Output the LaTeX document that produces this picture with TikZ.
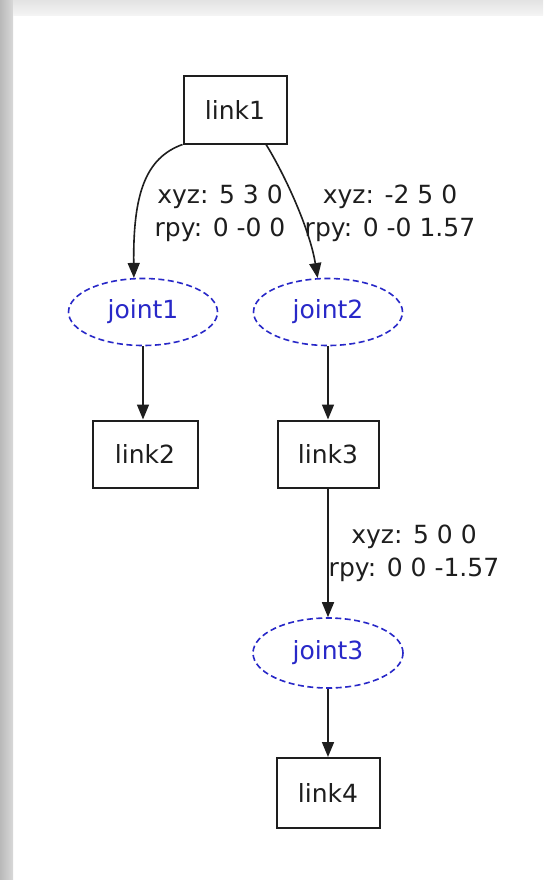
\documentclass[tikz,border=0pt]{standalone}
\usepackage{fontspec}
\setmainfont{DejaVu Sans}
\usetikzlibrary{shapes.geometric,arrows.meta}
\definecolor{jblue}{RGB}{40,40,200}
\definecolor{ink}{RGB}{30,30,30}
\tikzset{
  linkbox/.style={draw=ink, line width=2pt, rectangle, minimum width=103pt, minimum height=67pt, inner sep=0pt, text=ink, font=\fontsize{25}{30}\selectfont},
  jointell/.style={draw=jblue, line width=1.6pt, dash pattern=on 6pt off 3.5pt, ellipse, minimum width=149pt, minimum height=67pt, inner sep=0pt, text=jblue, font=\fontsize{25}{30}\selectfont},
  arr/.style={draw=ink, line width=1.6pt, -{Triangle[length=15pt,width=12pt]}},
  elabel/.style={align=center, text=ink, inner sep=0pt, font=\fontsize{25}{33}\selectfont}
}
\begin{document}
\begin{tikzpicture}[x=1pt,y=-1pt]
\useasboundingbox (0,0) rectangle (543,880);
\fill[white] (0,0) rectangle (543,880);
\shade[left color=gray!55, right color=gray!30] (0,0) rectangle (13,880);
\shade[top color=gray!22, bottom color=gray!8] (13,0) rectangle (543,16);

\node[linkbox] (link1) at (235,110) {link1};
\node[jointell] (joint1) at (143,312) {joint1};
\node[jointell] (joint2) at (328,312) {joint2};
\node[linkbox, minimum width=105pt] (link2) at (145,454) {link2};
\node[linkbox, minimum width=101pt] (link3) at (328,454) {link3};
\node[jointell, minimum width=150pt, minimum height=70pt] (joint3) at (328,653) {joint3};
\node[linkbox, minimum height=70pt] (link4) at (328,793) {link4};

\draw[arr] (link1.south west) .. controls (145,158) and (133,195) .. (joint1.105);
\draw[arr] (link1.-48) .. controls (285,175) and (310,230) .. (joint2.107);
\draw[arr] (joint1.south) -- (joint1.south |- link2.north);
\draw[arr] (joint2) -- (link3);
\draw[arr] (link3) -- (joint3);
\draw[arr] (joint3) -- (link4);

\node[elabel] (l1) at (220,213) {xyz: 5 3 0\\rpy: 0 -0 0};
\node[elabel] (l2) at (390,213) {xyz: -2 5 0\\rpy: 0 -0 1.57};
\node[elabel] (l3) at (414,553) {xyz: 5 0 0\\rpy: 0 0 -1.57};
\end{tikzpicture}
\end{document}
